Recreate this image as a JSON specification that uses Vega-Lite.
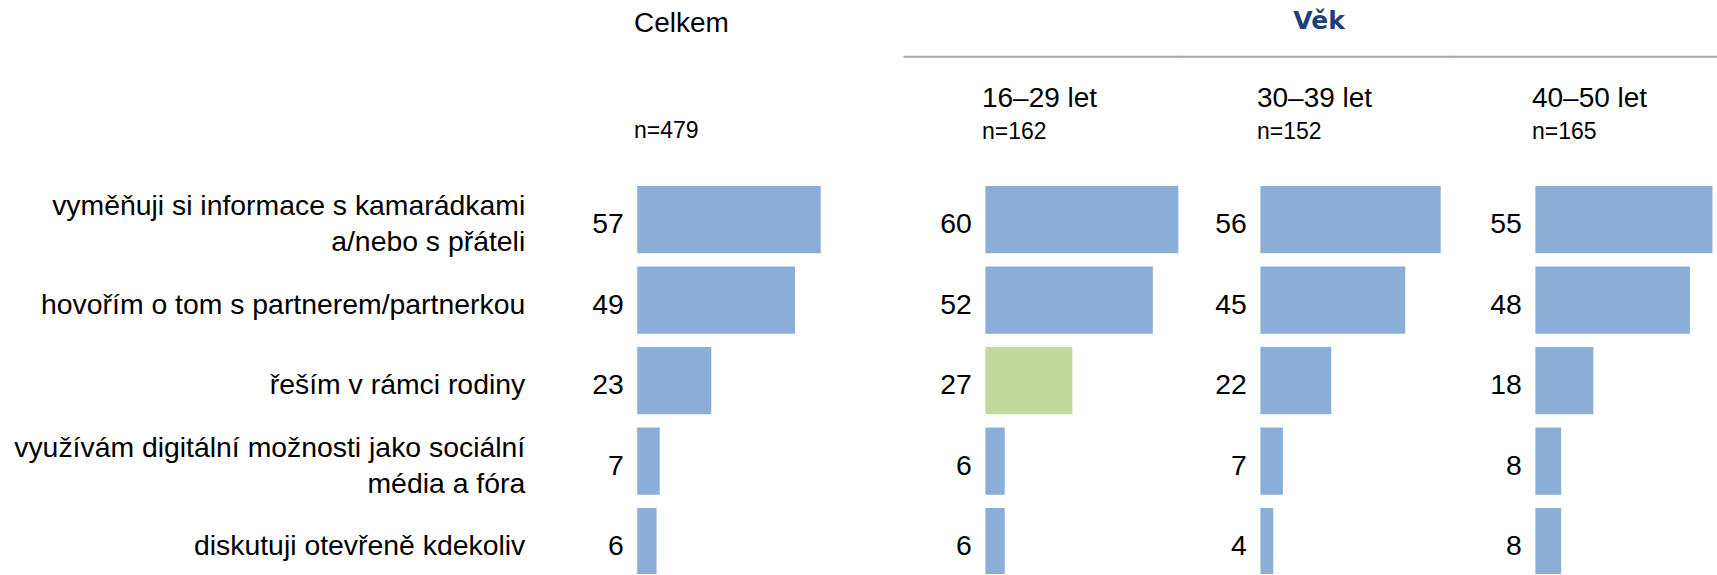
{
  "$schema": "https://vega.github.io/schema/vega-lite/v6.json",
  "padding": {"top": 9.3, "left": 0, "right": 0, "bottom": 0},
  "autosize": {"type": "pad"},
  "config": {
    "view": {"stroke": null},
    "font": "Liberation Sans",
    "title": {
      "font": "Liberation Sans",
      "subtitleFont": "Liberation Sans",
      "fontSize": 28,
      "subtitleFontSize": 23,
      "fontWeight": "normal",
      "color": "#000000",
      "subtitleColor": "#000000",
      "anchor": "start",
      "frame": "group",
      "baseline": "top"
    },
    "axisTop": {"domain": true, "domainColor": "#A6A6A6", "domainWidth": 2, "domainCap": "square", "ticks": false, "labels": false, "grid": false, "offset": 123.1},
    "text": {"font": "Liberation Sans", "fontSize": 28.4, "color": "#000000"}
  },
  "data": {
    "values": [
      {"group": "Celkem", "item": "vyměňuji si informace s kamarádkami\na/nebo s přáteli", "value": 57, "signif": "ne"},
      {"group": "Celkem", "item": "hovořím o tom s partnerem/partnerkou", "value": 49, "signif": "ne"},
      {"group": "Celkem", "item": "řeším v rámci rodiny", "value": 23, "signif": "ne"},
      {"group": "Celkem", "item": "využívám digitální možnosti jako sociální\nmédia a fóra", "value": 7, "signif": "ne"},
      {"group": "Celkem", "item": "diskutuji otevřeně kdekoliv", "value": 6, "signif": "ne"},
      {"group": "16–29 let", "item": "vyměňuji si informace s kamarádkami\na/nebo s přáteli", "value": 60, "signif": "ne"},
      {"group": "16–29 let", "item": "hovořím o tom s partnerem/partnerkou", "value": 52, "signif": "ne"},
      {"group": "16–29 let", "item": "řeším v rámci rodiny", "value": 27, "signif": "vyšší"},
      {"group": "16–29 let", "item": "využívám digitální možnosti jako sociální\nmédia a fóra", "value": 6, "signif": "ne"},
      {"group": "16–29 let", "item": "diskutuji otevřeně kdekoliv", "value": 6, "signif": "ne"},
      {"group": "30–39 let", "item": "vyměňuji si informace s kamarádkami\na/nebo s přáteli", "value": 56, "signif": "ne"},
      {"group": "30–39 let", "item": "hovořím o tom s partnerem/partnerkou", "value": 45, "signif": "ne"},
      {"group": "30–39 let", "item": "řeším v rámci rodiny", "value": 22, "signif": "ne"},
      {"group": "30–39 let", "item": "využívám digitální možnosti jako sociální\nmédia a fóra", "value": 7, "signif": "ne"},
      {"group": "30–39 let", "item": "diskutuji otevřeně kdekoliv", "value": 4, "signif": "ne"},
      {"group": "40–50 let", "item": "vyměňuji si informace s kamarádkami\na/nebo s přáteli", "value": 55, "signif": "ne"},
      {"group": "40–50 let", "item": "hovořím o tom s partnerem/partnerkou", "value": 48, "signif": "ne"},
      {"group": "40–50 let", "item": "řeším v rámci rodiny", "value": 18, "signif": "ne"},
      {"group": "40–50 let", "item": "využívám digitální možnosti jako sociální\nmédia a fóra", "value": 8, "signif": "ne"},
      {"group": "40–50 let", "item": "diskutuji otevřeně kdekoliv", "value": 8, "signif": "ne"}
    ]
  },
  "spacing": 0,
  "bounds": "flush",
  "hconcat": [
    {
      "width": 904,
      "height": 394.9,
      "title": {"text": "Celkem", "subtitle": "n=479", "dx": 634, "offset": 36.1, "subtitlePadding": 82},
      "transform": [{"filter": "datum.group === 'Celkem'"}],
      "layer": [
        {
          "mark": {"type": "bar", "clip": true},
          "encoding": {
            "x": {"field": "value", "type": "quantitative", "scale": {"domain": [-197.9, 82.86], "nice": false}, "axis": null},
            "y": {"field": "item", "type": "nominal", "sort": null, "axis": null, "scale": {"range": [0, 402.65], "paddingInner": 0.164, "paddingOuter": 0.082}},
            "color": {"field": "signif", "type": "nominal", "scale": {"domain": ["ne", "vyšší"], "range": ["#8AAED8", "#C5D89D"]}, "legend": null}
          }
        },
        {
          "mark": {"type": "text", "align": "right", "baseline": "middle", "dx": -13.5, "dy": 4.5},
          "encoding": {
            "x": {"datum": 0, "type": "quantitative", "axis": null},
            "y": {"field": "item", "type": "nominal", "sort": null, "axis": null},
            "text": {"field": "value", "type": "quantitative"}
          }
        },
        {
          "transform": [{"filter": "indexof(datum.item, '\\n') < 0"}],
          "mark": {"type": "text", "align": "right", "baseline": "middle", "dx": -112, "dy": 4.5},
          "encoding": {
            "x": {"datum": 0, "type": "quantitative", "axis": null},
            "y": {"field": "item", "type": "nominal", "sort": null, "axis": null},
            "text": {"field": "item", "type": "nominal"}
          }
        },
        {
          "transform": [{"filter": "indexof(datum.item, '\\n') >= 0"}],
          "mark": {"type": "text", "align": "right", "baseline": "middle", "dx": -112, "dy": -13.5, "lineBreak": "\n", "lineHeight": 36},
          "encoding": {
            "x": {"datum": 0, "type": "quantitative", "axis": null},
            "y": {"field": "item", "type": "nominal", "sort": null, "axis": null},
            "text": {"field": "item", "type": "nominal"}
          }
        }
      ]
    },
    {
      "title": {"text": "Věk", "anchor": "middle", "frame": "bounds", "font": "DejaVu Sans", "fontSize": 25, "fontWeight": "bold", "color": "#1F3F7A", "offset": 21.7, "dx": 8},
      "spacing": 0,
      "bounds": "flush",
      "hconcat": [
        {
          "width": 274.5,
          "height": 394.9,
          "title": {"text": "16–29 let", "subtitle": "n=162", "dx": 78, "offset": -88, "subtitlePadding": 8.3},
          "transform": [{"filter": "datum.group === '16–29 let'"}],
          "encoding": {
            "y": {"field": "item", "type": "nominal", "sort": null, "axis": null, "scale": {"range": [0, 402.65], "paddingInner": 0.164, "paddingOuter": 0.082}}
          },
          "layer": [
            {
              "mark": {"type": "bar", "clip": true},
              "encoding": {
                "x": {"field": "value", "type": "quantitative", "scale": {"domain": [-25.28, 59.97], "nice": false}, "axis": {"orient": "top", "title": null}},
                "color": {"field": "signif", "type": "nominal", "scale": {"domain": ["ne", "vyšší"], "range": ["#8AAED8", "#C5D89D"]}, "legend": null}
              }
            },
            {
              "mark": {"type": "text", "align": "right", "baseline": "middle", "dx": -13.5, "dy": 4.5},
              "encoding": {
                "x": {"datum": 0, "type": "quantitative", "axis": {"orient": "top", "title": null}},
                "text": {"field": "value", "type": "quantitative"}
              }
            }
          ]
        },
        {
          "width": 274.5,
          "height": 394.9,
          "title": {"text": "30–39 let", "subtitle": "n=152", "dx": 78, "offset": -88, "subtitlePadding": 8.3},
          "transform": [{"filter": "datum.group === '30–39 let'"}],
          "encoding": {
            "y": {"field": "item", "type": "nominal", "sort": null, "axis": null, "scale": {"range": [0, 402.65], "paddingInner": 0.164, "paddingOuter": 0.082}}
          },
          "layer": [
            {
              "mark": {"type": "bar", "clip": true},
              "encoding": {
                "x": {"field": "value", "type": "quantitative", "scale": {"domain": [-25.28, 59.97], "nice": false}, "axis": {"orient": "top", "title": null}},
                "color": {"field": "signif", "type": "nominal", "scale": {"domain": ["ne", "vyšší"], "range": ["#8AAED8", "#C5D89D"]}, "legend": null}
              }
            },
            {
              "mark": {"type": "text", "align": "right", "baseline": "middle", "dx": -13.5, "dy": 4.5},
              "encoding": {
                "x": {"datum": 0, "type": "quantitative", "axis": {"orient": "top", "title": null}},
                "text": {"field": "value", "type": "quantitative"}
              }
            }
          ]
        },
        {
          "width": 264,
          "height": 394.9,
          "title": {"text": "40–50 let", "subtitle": "n=165", "dx": 78, "offset": -88, "subtitlePadding": 8.3},
          "transform": [{"filter": "datum.group === '40–50 let'"}],
          "encoding": {
            "y": {"field": "item", "type": "nominal", "sort": null, "axis": null, "scale": {"range": [0, 402.65], "paddingInner": 0.164, "paddingOuter": 0.082}}
          },
          "layer": [
            {
              "mark": {"type": "bar", "clip": true},
              "encoding": {
                "x": {"field": "value", "type": "quantitative", "scale": {"domain": [-25.28, 56.71], "nice": false}, "axis": {"orient": "top", "title": null}},
                "color": {"field": "signif", "type": "nominal", "scale": {"domain": ["ne", "vyšší"], "range": ["#8AAED8", "#C5D89D"]}, "legend": null}
              }
            },
            {
              "mark": {"type": "text", "align": "right", "baseline": "middle", "dx": -13.5, "dy": 4.5},
              "encoding": {
                "x": {"datum": 0, "type": "quantitative", "axis": {"orient": "top", "title": null}},
                "text": {"field": "value", "type": "quantitative"}
              }
            }
          ]
        }
      ]
    }
  ]
}
